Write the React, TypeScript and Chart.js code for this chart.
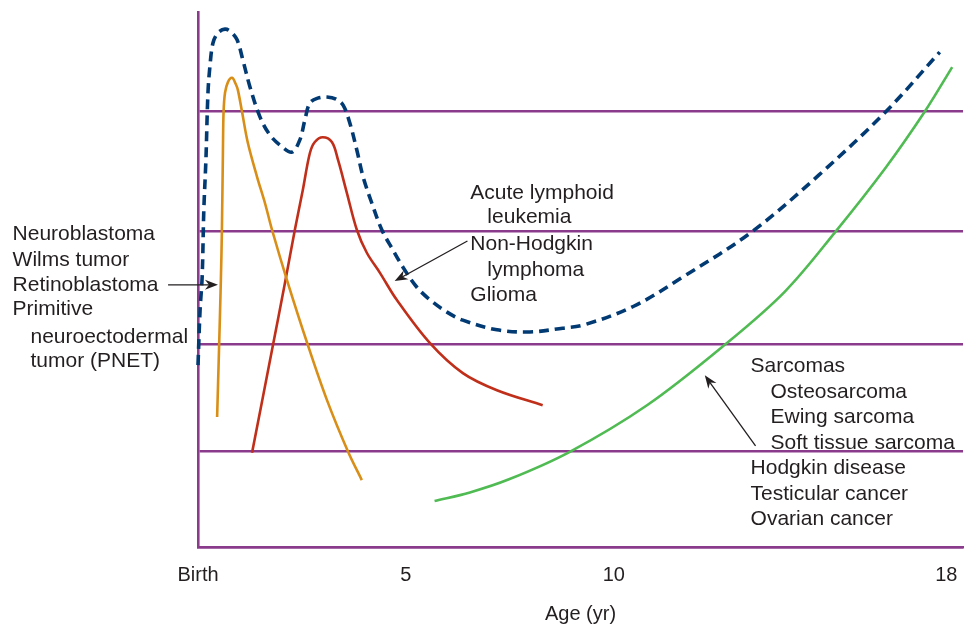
import React, { useEffect, useRef } from "react";
import { Chart, registerables } from "chart.js";

Chart.register(...registerables);

// ---- axis ----
const xTickValues = [0, 5, 10, 18];
const xTickLabels = ["Birth", "5", "10", "18"];
const xMax = 18.4;
const yMax = 100;
const gridLevels = [0, 17.8, 37.8, 59.1, 81.5];

// ---- series (age in years, relative incidence) ----
const allAge = [0, 0.05, 0.1, 0.14, 0.19, 0.24, 0.29, 0.36, 0.48, 0.65, 0.79, 0.94, 1.08, 1.25, 1.49, 1.73, 2.02, 2.26, 2.45, 2.57, 2.69, 2.88, 3.1, 3.32, 3.49, 3.65, 3.82, 3.97, 4.18, 4.42, 4.69, 4.93, 5.26, 5.58, 5.99, 6.37, 7.19, 7.98, 8.77, 9.28, 10.48, 11.71, 13.32, 14.93, 16.56, 17.84];
const allRate = [34.0, 44.3, 50.5, 63.0, 72.3, 84.9, 90.1, 94.2, 96.1, 96.8, 96.3, 94.8, 91.0, 86.0, 80.4, 77.0, 74.8, 73.8, 76.1, 79.8, 83.0, 83.9, 84.1, 83.7, 82.6, 79.3, 74.2, 69.2, 64.3, 59.3, 55.5, 52.3, 48.6, 46.2, 43.9, 42.4, 40.6, 40.2, 40.9, 41.5, 45.0, 50.7, 58.9, 69.5, 81.5, 92.5];

const neuroAge = [0.46, 0.505, 0.55, 0.575, 0.6, 0.615, 0.65, 0.72, 0.82, 0.91, 0.96, 1.06, 1.2, 1.42, 1.61, 1.78, 2.14, 2.64, 3.1, 3.61, 3.94];
const neuroRate = [24.3, 36.8, 49.9, 59.3, 74.2, 81.3, 84.9, 86.9, 87.7, 86.5, 85.4, 81.3, 75.5, 69.2, 64.3, 59.3, 49.9, 37.8, 27.5, 17.8, 12.5];

const lymphAge = [1.3, 1.78, 2.09, 2.33, 2.52, 2.69, 2.81, 3.0, 3.22, 3.37, 3.58, 3.82, 4.06, 4.38, 4.78, 5.58, 6.37, 7.19, 8.29];
const lymphRate = [17.6, 36.8, 49.3, 59.3, 66.7, 73.6, 75.7, 76.6, 75.7, 72.3, 66.2, 59.3, 55.0, 51.2, 46.2, 38.1, 32.5, 29.3, 26.5];

const sarcAge = [5.69, 6.54, 7.48, 8.92, 10.8, 12.67, 14.11, 15.35, 16.53, 17.49, 18.14];
const sarcRate = [8.6, 10.2, 12.65, 17.7, 26.5, 37.8, 47.7, 59.1, 70.8, 81.5, 89.7];

// ---- annotation text (anchored in data units) ----
const leftLabels = ["Neuroblastoma", "Wilms tumor", "Retinoblastoma", "Primitive", "neuroectodermal", "tumor (PNET)"];
const leftLabelX = [-4.46, -4.46, -4.46, -4.46, -4.03, -4.03];
const leftLabelY = [58.4, 53.7, 48.9, 44.4, 39.3, 34.7];

const midLabels = ["Acute lymphoid", "leukemia", "Non-Hodgkin", "lymphoma", "Glioma"];
const midLabelX = [6.55, 6.96, 6.55, 6.96, 6.55];
const midLabelY = [66.2, 61.7, 56.6, 51.8, 47.1];

const rightLabels = ["Sarcomas", "Osteosarcoma", "Ewing sarcoma", "Soft tissue sarcoma", "Hodgkin disease", "Testicular cancer", "Ovarian cancer"];
const rightLabelX = [13.29, 13.77, 13.77, 13.77, 13.29, 13.29, 13.29];
const rightLabelY = [33.8, 29.0, 24.3, 19.4, 14.8, 9.9, 5.2];

// arrows: from (x, y) to (x, y)
const arrowFromX = [-0.72, 6.48, 13.41];
const arrowFromY = [49.0, 57.2, 18.9];
const arrowToX = [0.48, 4.73, 12.19];
const arrowToY = [49.0, 49.7, 32.1];

const pts = (xs: number[], ys: number[]) => xs.map((x, i) => ({ x, y: ys[i] }));

const FONT = "'Liberation Sans', Arial, Helvetica, sans-serif";
const TEXT = "#231f20";
const PURPLE = "#8b3b8c";

const annotationPlugin = {
  id: "annotations",
  afterDatasetsDraw(chart: any) {
    const { ctx } = chart;
    const xs = chart.scales.x;
    const ys = chart.scales.y;
    ctx.save();
    ctx.fillStyle = TEXT;
    ctx.font = `21px ${FONT}`;
    ctx.textAlign = "left";
    ctx.textBaseline = "middle";
    const drawBlock = (labels: string[], lx: number[], ly: number[]) => {
      labels.forEach((t, i) => {
        ctx.fillText(t, xs.getPixelForValue(lx[i]), ys.getPixelForValue(ly[i]));
      });
    };
    drawBlock(leftLabels, leftLabelX, leftLabelY);
    drawBlock(midLabels, midLabelX, midLabelY);
    drawBlock(rightLabels, rightLabelX, rightLabelY);

    ctx.strokeStyle = TEXT;
    ctx.lineWidth = 1.3;
    arrowFromX.forEach((_, i) => {
      const x1 = xs.getPixelForValue(arrowFromX[i]);
      const y1 = ys.getPixelForValue(arrowFromY[i]);
      const x2 = xs.getPixelForValue(arrowToX[i]);
      const y2 = ys.getPixelForValue(arrowToY[i]);
      const ang = Math.atan2(y2 - y1, x2 - x1);
      const len = 13;
      const hw = 5;
      const bx = x2 - Math.cos(ang) * len;
      const by = y2 - Math.sin(ang) * len;
      ctx.beginPath();
      ctx.moveTo(x1, y1);
      ctx.lineTo(x2 - Math.cos(ang) * 8, y2 - Math.sin(ang) * 8);
      ctx.stroke();
      const nx = -Math.sin(ang);
      const ny = Math.cos(ang);
      ctx.beginPath();
      ctx.moveTo(x2, y2);
      ctx.lineTo(bx + nx * hw, by + ny * hw);
      ctx.lineTo(x2 - Math.cos(ang) * 9, y2 - Math.sin(ang) * 9);
      ctx.lineTo(bx - nx * hw, by - ny * hw);
      ctx.closePath();
      ctx.fill();
    });
    ctx.restore();
  },
};

export default function App() {
  const ref = useRef<HTMLCanvasElement>(null);
  useEffect(() => {
    document.body.style.margin = "0";
    Chart.defaults.font.family = FONT;
    const lineStyle = { pointRadius: 0, tension: 0.35, fill: false, clip: 6 };
    const chart = new Chart(ref.current!, {
      type: "line",
      data: {
        datasets: [
          { label: "ALL / NHL / Glioma total", data: pts(allAge, allRate), borderColor: "#023a73", borderWidth: 3.6, borderDash: [10, 6], ...lineStyle },
          { label: "Embryonal tumors", data: pts(neuroAge, neuroRate), borderColor: "#d98e17", borderWidth: 2.6, ...lineStyle },
          { label: "Lymphoma / leukemia", data: pts(lymphAge, lymphRate), borderColor: "#bf2f1a", borderWidth: 2.6, ...lineStyle },
          { label: "Sarcomas etc.", data: pts(sarcAge, sarcRate), borderColor: "#4fbb52", borderWidth: 2.6, ...lineStyle },
        ],
      },
      options: {
        responsive: false,
        animation: false,
        layout: { padding: { left: 198, right: 6, top: 12, bottom: 1 } },
        plugins: { legend: { display: false }, tooltip: { enabled: false } },
        scales: {
          x: {
            type: "linear",
            min: 0,
            max: xMax,
            afterBuildTicks: (scale: any) => {
              scale.ticks = xTickValues.map((v) => ({ value: v }));
            },
            ticks: {
              autoSkip: false,
              maxRotation: 0,
              padding: 0,
              color: TEXT,
              font: { size: 20, family: FONT },
              callback: (v: any) => {
                const i = xTickValues.indexOf(Number(v));
                return i >= 0 ? xTickLabels[i] : "";
              },
            },
            grid: { display: true, drawOnChartArea: false, drawTicks: true, tickLength: 16, tickColor: "rgba(0,0,0,0)", color: "rgba(0,0,0,0)" },
            border: { display: true, color: PURPLE, width: 2.6 },
            title: { display: true, text: "Age (yr)", color: TEXT, font: { size: 20, family: FONT }, padding: { top: 15, bottom: 0 } },
          },
          y: {
            type: "linear",
            min: 0,
            max: yMax,
            afterBuildTicks: (scale: any) => {
              scale.ticks = gridLevels.map((v) => ({ value: v }));
            },
            ticks: { display: false },
            grid: { display: true, drawTicks: false, color: PURPLE, lineWidth: 2.6 },
            border: { display: true, color: PURPLE, width: 2.6 },
          },
        },
      },
      plugins: [annotationPlugin],
    } as any);
    return () => chart.destroy();
  }, []);
  return (
    <div style={{ position: "absolute", left: 0, top: 0, width: 969, height: 627, background: "#fff" }}>
      <canvas ref={ref} width={969} height={627} style={{ display: "block", width: 969, height: 627 }} />
    </div>
  );
}
